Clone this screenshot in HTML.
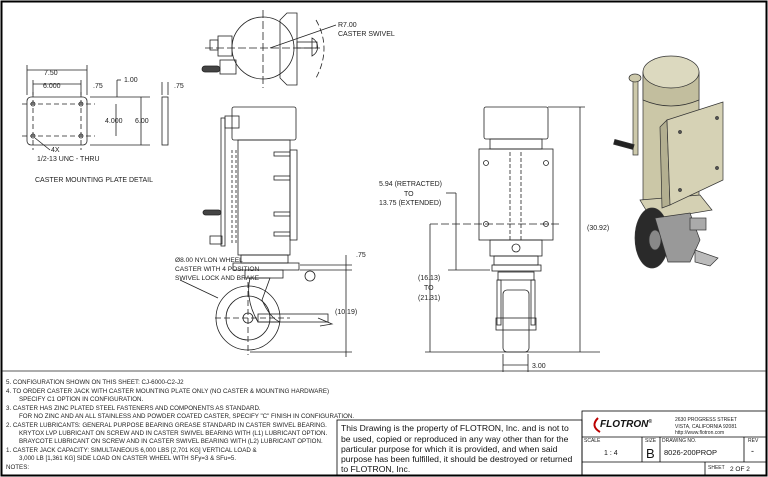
<!DOCTYPE html>
<html><head><style>
body{margin:0;background:#fff;}
svg{display:block;font-family:"Liberation Sans",Arial,sans-serif;}
.n{font-size:6.2px;fill:#222;}
</style></head><body>
<svg width="768" height="477" viewBox="0 0 768 477" xmlns="http://www.w3.org/2000/svg">
<rect x="1.5" y="1.5" width="765" height="474" fill="none" stroke="#000" stroke-width="2"/>
<g stroke="#222" fill="none" stroke-width="0.8">
<rect x="27" y="97" width="60" height="48" rx="4"/>
<line x1="22" y1="104" x2="95" y2="104" stroke-dasharray="5,3"/>
<line x1="22" y1="136" x2="95" y2="136" stroke-dasharray="5,3"/>
<line x1="33" y1="92" x2="33" y2="150" stroke-dasharray="5,3"/>
<line x1="81" y1="92" x2="81" y2="150" stroke-dasharray="5,3"/>
<circle cx="33" cy="104" r="2"/><circle cx="81" cy="104" r="2"/><circle cx="33" cy="136" r="2"/><circle cx="81" cy="136" r="2"/>
<rect x="162" y="97" width="6" height="48"/>
<line x1="27" y1="70" x2="87" y2="70"/><line x1="27" y1="65" x2="27" y2="95"/><line x1="87" y1="65" x2="87" y2="95"/>
<line x1="33" y1="84" x2="81" y2="84"/><line x1="33" y1="80" x2="33" y2="95"/><line x1="81" y1="80" x2="81" y2="95"/>
<line x1="90" y1="97" x2="150" y2="97"/><line x1="90" y1="145" x2="150" y2="145"/>
<line x1="116" y1="104" x2="116" y2="136"/><line x1="141" y1="97" x2="141" y2="145"/>
<line x1="117" y1="80" x2="117" y2="97"/><line x1="117" y1="80" x2="121" y2="80"/>
<line x1="162" y1="82" x2="162" y2="95"/><line x1="168" y1="82" x2="168" y2="95"/>
<line x1="35" y1="138" x2="50" y2="150"/>
<circle cx="263" cy="48" r="31"/>
<polygon points="287,13 297,13 297,85 287,85 280,78 280,20"/>
<rect x="218" y="36" width="14" height="20"/><rect x="210" y="40" width="8" height="10"/>
<rect x="220" y="60" width="16" height="14"/><rect x="202" y="66" width="18" height="6" rx="3" fill="#444"/>
<rect x="297" y="42" width="20" height="6"/><path d="M312,38 a10,10 0 0 1 0,18 z"/>
<line x1="205" y1="48" x2="320" y2="48" stroke-dasharray="8,3"/>
<line x1="263" y1="10" x2="263" y2="88" stroke-dasharray="8,3"/>
<path d="M316,20 Q332,48 316,78" stroke-dasharray="6,3"/>
<line x1="270" y1="48" x2="336" y2="25"/>
<rect x="232" y="107" width="64" height="33" rx="2"/>
<rect x="238" y="140" width="52" height="115"/>
<rect x="290" y="150" width="7" height="90"/>
<rect x="221" y="118" width="4" height="128"/>
<rect x="225" y="116" width="14" height="12"/>
<line x1="232" y1="150" x2="232" y2="245" stroke-dasharray="3,2"/>
<line x1="236" y1="150" x2="236" y2="245" stroke-dasharray="3,2"/>
<rect x="203" y="210" width="18" height="5" rx="2.5" fill="#444"/>
<rect x="210" y="236" width="12" height="8"/>
<rect x="274" y="152" width="16" height="4"/><rect x="274" y="176" width="16" height="4"/><rect x="274" y="212" width="16" height="4"/><rect x="274" y="232" width="16" height="4"/>
<rect x="241" y="255" width="47" height="8"/>
<rect x="233" y="263" width="66" height="7"/>
<rect x="245" y="270" width="38" height="8"/>
<circle cx="310" cy="276" r="5"/>
<circle cx="248" cy="318" r="32"/><circle cx="248" cy="318" r="22"/>
<path d="M250,278 L270,278 L262,300 Q270,318 280,322 L258,322 Q245,300 250,278 z"/>
<rect x="258" y="314" width="70" height="8"/><path d="M318,318 L332,324 L320,326"/>
<circle cx="248" cy="318" r="5"/>
<line x1="215" y1="318" x2="290" y2="318" stroke-dasharray="6,3"/>
<line x1="248" y1="282" x2="248" y2="355" stroke-dasharray="6,3"/>
<line x1="300" y1="265" x2="352" y2="265"/><line x1="300" y1="270" x2="352" y2="270"/>
<line x1="346" y1="255" x2="346" y2="357"/><line x1="250" y1="352" x2="352" y2="352"/>
<line x1="180" y1="280" x2="218" y2="298"/>
<rect x="484" y="107" width="64" height="32" rx="2"/>
<rect x="490" y="139" width="52" height="10"/>
<rect x="479" y="149" width="74" height="91"/>
<line x1="510" y1="152" x2="510" y2="240" stroke-dasharray="4,2"/><line x1="521" y1="152" x2="521" y2="240" stroke-dasharray="4,2"/>
<circle cx="486" cy="163" r="2.5"/><circle cx="546" cy="163" r="2.5"/><circle cx="486" cy="224" r="2.5"/><circle cx="546" cy="224" r="2.5"/>
<circle cx="516" cy="248" r="4"/>
<rect x="490" y="240" width="52" height="16"/>
<rect x="494" y="256" width="44" height="9"/>
<rect x="492" y="265" width="49" height="6"/>
<rect x="498" y="272" width="36" height="8"/>
<rect x="497" y="280" width="4" height="45"/><rect x="531" y="280" width="4" height="45"/>
<rect x="503" y="290" width="26" height="62" rx="4"/>
<rect x="496" y="318" width="40" height="12"/>
<line x1="430" y1="224" x2="560" y2="224" stroke-dasharray="8,3"/>
<line x1="430" y1="224" x2="430" y2="352"/><line x1="425" y1="352" x2="600" y2="352"/>
<line x1="456" y1="193" x2="456" y2="270"/><line x1="446" y1="193" x2="456" y2="193"/><line x1="448" y1="270" x2="490" y2="270"/>
<line x1="548" y1="107" x2="585" y2="107"/><line x1="580" y1="107" x2="580" y2="352"/>
<line x1="503" y1="354" x2="503" y2="372"/><line x1="528" y1="354" x2="528" y2="372"/><line x1="503" y1="365" x2="528" y2="365"/>
<line x1="2" y1="371" x2="766" y2="371"/>
</g>
<!-- iso view -->
<g stroke="#333" stroke-width="0.7">
<rect x="633" y="75" width="5" height="80" fill="#cdc9ab"/>
<ellipse cx="635" cy="78" rx="6" ry="4" fill="#cdc9ab"/>
<rect x="614" y="142" width="20" height="5" fill="#222" transform="rotate(15 624 144)"/>
<path d="M643,72 L643,205 Q671,215 699,205 L699,72 z" fill="#cbc7a7"/>
<path d="M643,72 L643,100 Q671,112 699,100 L699,72 z" fill="#c2be9e"/>
<ellipse cx="671" cy="72" rx="28" ry="16" fill="#dcd9bf"/>
<polygon points="640,200 700,195 712,210 652,220" fill="#d4d0b3"/>
<polygon points="660,127 667,120 670,205 662,208" fill="#b3af90"/>
<polygon points="667,120 723,102 723,180 670,205" fill="#d6d2b5"/>
<circle cx="680" cy="132" r="1.5" fill="#555"/><circle cx="717" cy="118" r="1.5" fill="#555"/><circle cx="717" cy="168" r="1.5" fill="#555"/><circle cx="680" cy="190" r="1.5" fill="#555"/>
<ellipse cx="652" cy="238" rx="17" ry="30" fill="#2a2a2a"/>
<ellipse cx="655" cy="240" rx="6" ry="10" fill="#888"/>
<polygon points="655,218 690,213 700,240 690,262 668,262" fill="#999"/>
<rect x="690" y="218" width="16" height="12" fill="#aaa"/>
<polygon points="695,250 718,258 710,266 695,262" fill="#bbb"/>
</g>
<g font-size="7" fill="#222">
<text x="44" y="75">7.50</text><text x="43" y="88">6.000</text><text x="93" y="88">.75</text><text x="124" y="82">1.00</text>
<text x="174" y="88">.75</text><text x="105" y="123">4.000</text><text x="135" y="123">6.00</text>
<text x="51" y="152">4X</text><text x="37" y="161">1/2-13 UNC - THRU</text>
<text x="35" y="182">CASTER MOUNTING PLATE DETAIL</text>
<text x="338" y="27">R7.00</text><text x="338" y="36">CASTER SWIVEL</text>
<text x="356" y="257">.75</text><text x="335" y="314">(10.19)</text>
<text x="175" y="262" font-size="6.6">Ø8.00 NYLON WHEEL</text><text x="175" y="271" font-size="6.6">CASTER WITH 4 POSITION</text><text x="175" y="280" font-size="6.6">SWIVEL LOCK AND BRAKE</text>
<text x="379" y="186">5.94 (RETRACTED)</text><text x="404" y="196">TO</text><text x="379" y="205">13.75 (EXTENDED)</text>
<text x="587" y="230">(30.92)</text>
<text x="418" y="280">(16.13)</text><text x="424" y="290">TO</text><text x="418" y="300">(21.31)</text>
<text x="532" y="368">3.00</text>
</g>
<g class="n">
<text x="6" y="384">5.   CONFIGURATION SHOWN ON THIS SHEET: CJ-6000-C2-J2</text>
<text x="6" y="393">4.   TO ORDER CASTER JACK WITH CASTER MOUNTING PLATE ONLY (NO CASTER &amp; MOUNTING HARDWARE)</text>
<text x="19" y="401">SPECIFY C1 OPTION IN CONFIGURATION.</text>
<text x="6" y="410">3.   CASTER HAS ZINC PLATED STEEL FASTENERS AND COMPONENTS AS STANDARD.</text>
<text x="19" y="418">FOR NO ZINC AND AN ALL STAINLESS AND POWDER COATED CASTER, SPECIFY "C" FINISH IN CONFIGURATION.</text>
<text x="6" y="427">2.   CASTER LUBRICANTS:  GENERAL PURPOSE BEARING GREASE STANDARD IN CASTER SWIVEL BEARING.</text>
<text x="19" y="435">KRYTOX LVP LUBRICANT ON SCREW AND IN CASTER SWIVEL BEARING WITH (L1) LUBRICANT OPTION.</text>
<text x="19" y="443">BRAYCOTE LUBRICANT ON SCREW AND IN CASTER SWIVEL BEARING WITH (L2) LUBRICANT OPTION.</text>
<text x="6" y="452">1.   CASTER JACK CAPACITY: SIMULTANEOUS 6,000 LBS [2,701 KG] VERTICAL LOAD &amp;</text>
<text x="19" y="460">3,000 LB [1,361 KG] SIDE LOAD ON CASTER WHEEL WITH SFy=3 &amp; SFu=5.</text>
<text x="6" y="469">NOTES:</text>
</g>
<g stroke="#000" fill="none" stroke-width="0.8">
<rect x="337" y="420" width="245" height="55"/>
<rect x="582" y="411" width="184" height="64"/>
<line x1="582" y1="437" x2="766" y2="437"/>
<line x1="582" y1="462" x2="766" y2="462"/>
<line x1="642" y1="437" x2="642" y2="462"/><line x1="660" y1="437" x2="660" y2="462"/><line x1="744" y1="437" x2="744" y2="462"/>
<line x1="705" y1="462" x2="705" y2="475"/>
<path d="M598,418 q-8,8 2,14" stroke="#b00" stroke-width="2"/>
</g>
<g font-size="8.6" fill="#111">
<text x="341" y="431">This Drawing is the property of FLOTRON, Inc. and is not to</text>
<text x="341" y="442">be used, copied or reproduced in any way other than for the</text>
<text x="341" y="452">particular purpose for which it is provided, and when said</text>
<text x="341" y="462">purpose has been fulfilled, it should be destroyed or returned</text>
<text x="341" y="472">to FLOTRON, Inc.</text>
</g>
<text x="600" y="427" font-size="10" font-weight="bold" font-style="italic" fill="#111">FLOTRON<tspan font-size="5" dy="-4">®</tspan></text>
<g font-size="5" fill="#222">
<text x="675" y="421">2630 PROGRESS STREET</text><text x="675" y="428">VISTA, CALIFORNIA 92081</text><text x="675" y="434">http://www.flotron.com</text>
<text x="584" y="442">SCALE</text><text x="645" y="442">SIZE</text><text x="662" y="442">DRAWING NO.</text><text x="748" y="442">REV</text>
<text x="708" y="469">SHEET</text>
</g>
<text x="604" y="455" font-size="7" fill="#111">1 : 4</text>
<text x="646" y="458" font-size="13" fill="#111">B</text>
<text x="664" y="455" font-size="7.5" fill="#111">8026-200PROP</text>
<text x="751" y="454" font-size="9" fill="#111">-</text>
<text x="730" y="471" font-size="6.5" fill="#111">2 OF 2</text>
</svg>
</body></html>
